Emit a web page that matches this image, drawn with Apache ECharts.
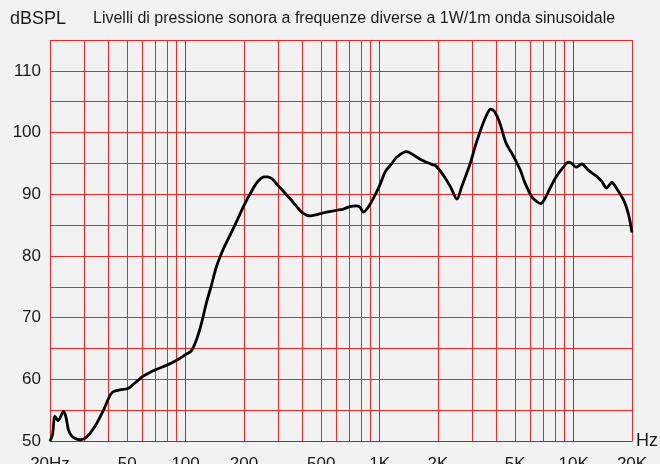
<!DOCTYPE html>
<html>
<head>
<meta charset="utf-8">
<script src="https://cdn.jsdelivr.net/npm/echarts@6/dist/echarts.min.js"></script>
<style>
  html, body { margin: 0; padding: 0; background: #f2f2f2; }
  #chart { width: 660px; height: 464px; }
</style>
</head>
<body>
<div id="chart"></div>
<script>
// frequency response
const freqs = [20, 20.6, 21.2, 22.0, 23.5, 24.2, 24.9, 25.9, 27.5, 28.8, 30.8, 34, 37.6, 40.8, 42.4, 45.9, 50.4, 53.9, 59.6, 64.3, 70.5, 80, 90,
  100, 107, 114, 121, 128, 136, 144, 153, 166, 179, 200, 218, 236, 255, 265, 281, 300, 345, 374, 404, 438, 474, 533, 600, 650, 703, 756, 793, 822, 860, 927,
  1000, 1072, 1138, 1225, 1380, 1488, 1637, 1873, 1950, 2107, 2321, 2505, 2655, 2932, 3105, 3290, 3555, 3735, 3912, 4149, 4485, 4850, 5000, 5300, 5620, 6090, 6460, 6770, 7120, 7540, 8160, 8860, 9400, 9780,
  10300, 11030, 11900, 13150, 13950, 14800, 15730, 16700, 18200, 19200, 20000]
const spl = [50.0, 51.0, 54.0, 53.3, 54.8, 53.8, 51.8, 50.8, 50.3, 50.2, 50.6, 52.3, 54.9, 57.4, 58.0, 58.3, 58.5, 59.2, 60.4, 61.0, 61.6, 62.3, 63.1,
  64.0, 64.6, 66.5, 69.2, 72.4, 75.3, 78.2, 80.4, 82.8, 84.9, 88.2, 90.4, 92.1, 92.8, 92.8, 92.4, 91.4, 89.3, 88.0, 86.9, 86.5, 86.7, 87.1, 87.4, 87.6, 88.0, 88.1, 87.9, 87.1, 87.6, 89.3,
  91.4, 93.7, 94.7, 96.0, 96.9, 96.4, 95.6, 94.8, 94.6, 93.3, 91.2, 89.2, 91.3, 95.0, 97.7, 100.1, 102.8, 103.8, 103.4, 101.7, 98.3, 96.4, 95.6, 94.0, 91.8, 89.6, 88.8, 88.5, 89.3, 90.9, 92.9, 94.4, 95.2, 95.0,
  94.4, 94.9, 93.9, 92.9, 92.1, 91.0, 91.9, 90.9, 88.9, 86.7, 83.8]

const gridFreqs = [20, 30, 40, 50, 60, 70, 80, 90, 200, 300, 400, 500, 600, 700, 800, 900,
  2000, 3000, 4000, 5000, 6000, 7000, 8000, 9000, 20000]
const decadeFreqs = [100, 1000, 10000]
const xTickFreqs = [20, 50, 100, 200, 500, 1000, 2000, 5000, 10000, 20000]
const xTickText = ['20Hz', '50', '100', '200', '500', '1K', '2K', '5K', '10K', '20K']

const lg = Math.log10
const font = 'Liberation Sans, Arial, sans-serif'
const plotH = 464 - 40 - 23

let chart = echarts.init(document.getElementById('chart'))

const option = {
  backgroundColor: '#f2f2f2',
  animation: false,
  title: [
    {
      text: 'dBSPL',
      left: 10,
      top: 10,
      padding: 0,
      textStyle: { fontFamily: font, fontSize: 18, fontWeight: 'normal', color: '#1a1a1a' }
    },
    {
      text: 'Livelli di pressione sonora a frequenze diverse a 1W/1m onda sinusoidale',
      left: 93,
      top: 11,
      padding: 0,
      textStyle: { fontFamily: font, fontSize: 16, fontWeight: 'normal', color: '#1a1a1a' }
    }
  ],
  grid: {
    left: 50,
    right: 28,
    top: 40,
    bottom: 23,
    containLabel: false,
    outerBoundsMode: 'none'
  },
  xAxis: [
    {
      // red vertical lines + labels
      type: 'value',
      min: lg(20),
      max: lg(20000),
      name: 'Hz',
      nameLocation: 'end',
      nameGap: 4,
      nameTextStyle: { fontFamily: font, fontSize: 18, color: '#1a1a1a', verticalAlign: 'middle', padding: [12, 0, 0, 0] },
      axisLine: { show: true, lineStyle: { color: '#ff0000', width: 1 } },
      axisTick: {
        show: true,
        inside: true,
        length: plotH,
        customValues: gridFreqs.map(f => lg(f)),
        lineStyle: { color: '#ff2020', width: 1 }
      },
      splitLine: { show: false },
      axisLabel: {
        customValues: xTickFreqs.map(f => lg(f)),
        showMinLabel: true,
        showMaxLabel: true,
        margin: 15,
        fontFamily: font,
        fontSize: 17,
        color: '#1a1a1a',
        formatter: function (v) {
          let i = xTickFreqs.findIndex(f => Math.abs(lg(f) - v) < 1e-6)
          return i >= 0 ? xTickText[i] : ''
        }
      }
    },
    {
      // blue decade lines
      type: 'value',
      position: 'bottom',
      min: lg(20),
      max: lg(20000),
      axisLine: { show: false },
      axisTick: {
        show: true,
        inside: true,
        length: plotH,
        customValues: decadeFreqs.map(f => lg(f)),
        lineStyle: { color: '#4040ff', width: 1 }
      },
      splitLine: { show: false },
      axisLabel: { show: false }
    }
  ],
  yAxis: {
    type: 'value',
    min: 50,
    max: 115,
    interval: 5,
    axisLine: { show: false },
    axisTick: { show: false },
    splitLine: { show: true, lineStyle: { color: '#ff2020', width: 1 } },
    axisLabel: {
      margin: 9,
      fontFamily: font,
      fontSize: 17,
      color: '#1a1a1a',
      formatter: function (v) {
        return (v % 10 === 0 && v <= 110) ? String(v) : ''
      }
    }
  },
  series: [
    {
      name: 'SPL',
      type: 'line',
      xAxisIndex: 0,
      z: 5,
      smooth: 0.3,
      showSymbol: false,
      lineStyle: { color: '#000000', width: 2.8 },
      itemStyle: { color: '#000000' },
      data: freqs.map((f, i) => [lg(f), spl[i]])
    }
  ]
}
chart.setOption(option)
</script>
</body>
</html>
